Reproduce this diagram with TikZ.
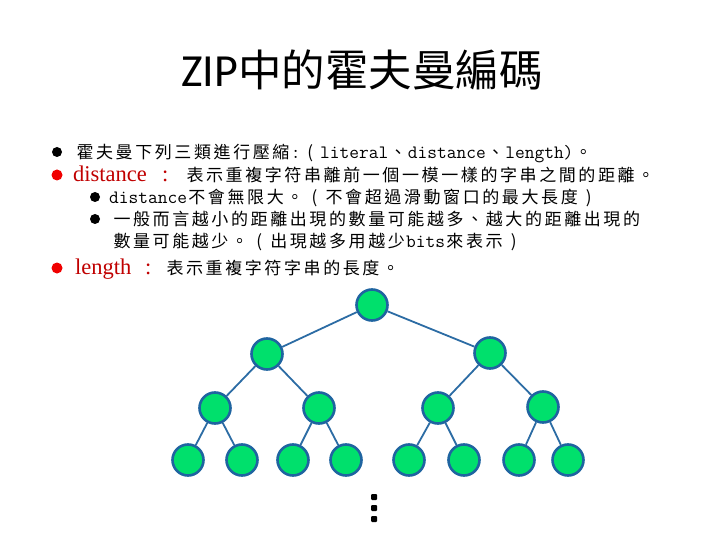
\documentclass[tikz,border=0pt]{standalone}
\usepackage{fontspec}
\setmainfont{Noto Sans CJK TC}
\newfontfamily\cjkf{Noto Sans CJK TC}
\newfontfamily\serf{Liberation Serif}
\newfontfamily\titlesans{Carlito}
\definecolor{nodefill}{HTML}{00E06C}
\definecolor{nodeline}{HTML}{1F64A0}
\definecolor{edgeline}{HTML}{2C6CA4}
\definecolor{redtext}{HTML}{C00000}
\definecolor{redbullet}{HTML}{F00000}
\newcommand\spc[1]{\spcA#1\relax}
\def\spcA#1{\ifx\relax#1\else\makebox[19.6pt]{#1}\expandafter\spcA\fi}
\newcommand\lat[1]{{\ttfamily\fontsize{18.9}{22}\selectfont #1}}
\tikzset{
  body/.style={anchor=base west, inner sep=0pt, font=\cjkf\fontsize{17}{20}\selectfont},
  redword/.style={anchor=base west, inner sep=0pt, text=redtext, font=\serf\fontsize{22.5}{26}\selectfont},
  blackbullet/.style={circle, fill=black, inner sep=0pt, minimum size=10pt},
  redbul/.style={circle, fill=redbullet, inner sep=0pt, minimum size=11pt},
  treenode/.style={circle, fill=nodefill, draw=nodeline, line width=2.6pt, minimum size=31pt, inner sep=0pt},
  edge/.style={draw=edgeline, line width=1.8pt},
  dotmark/.style={fill=black, rounded corners=1pt, minimum size=6pt, inner sep=0pt}
}
\begin{document}
\begin{tikzpicture}[x=1pt, y=-1pt]
\useasboundingbox (0,0) rectangle (720,540);
% title
\node (title) at (362,70) {\titlesans\fontsize{46}{52}\selectfont ZIP\cjkf\fontsize{43.5}{52}\selectfont 中的霍夫曼編碼};
% line 1
\node[blackbullet] (b1) at (57,152) {};
\node[body] (l1) at (75,158.5) {\spc{霍夫曼下列三類進行壓縮}\lat{:}\spc{(}\lat{literal}\spc{、}\lat{distance}\spc{、}\lat{length)}\spc{。}};
% line 2
\node[redbul] (b2) at (57,175) {};
\node[redword] (r2) at (73,181.5) {distance};
\node[redword] (c2) at (162,181.5) {:};
\node[body] (l2) at (185,181.5) {\spc{表示重複字符串離前一個一模一樣的字串之間的距離。}};
% line 3
\node[blackbullet] (b3) at (95,197) {};
\node[body] (l3) at (109,203.5) {\lat{distance}\spc{不會無限大。(不會超過滑動窗口的最大長度)}};
% line 4
\node[blackbullet] (b4) at (95,219) {};
\node[body] (l4) at (112,225.5) {\spc{一般而言越小的距離出現的數量可能越多、越大的距離出現的}};
% line 5
\node[body] (l5) at (112,247.5) {\spc{數量可能越少。(出現越多用越少}\lat{bits}\spc{來表示)}};
% line 6
\node[redbul] (b6) at (57,268) {};
\node[redword] (r6) at (75,274.5) {length};
\node[redword] (c6) at (145,274.5) {:};
\node[body] (l6) at (165,274.5) {\spc{表示重複字符字串的長度。}};
% tree
\node[treenode] (n0) at (372,305) {};
\node[treenode] (n1) at (267,354) {};
\node[treenode] (n2) at (490,353) {};
\node[treenode] (n3) at (215,408) {};
\node[treenode] (n4) at (319,408) {};
\node[treenode] (n5) at (438,408) {};
\node[treenode] (n6) at (543,407) {};
\node[treenode] (n7) at (188,460) {};
\node[treenode] (n8) at (242,460) {};
\node[treenode] (n9) at (293,460) {};
\node[treenode] (n10) at (346,460) {};
\node[treenode] (n11) at (409,460) {};
\node[treenode] (n12) at (464,460) {};
\node[treenode] (n13) at (519,460) {};
\node[treenode] (n14) at (568,460) {};
\path[edge] (n0) -- (n1) (n0) -- (n2)
  (n1) -- (n3) (n1) -- (n4) (n2) -- (n5) (n2) -- (n6)
  (n3) -- (n7) (n3) -- (n8) (n4) -- (n9) (n4) -- (n10)
  (n5) -- (n11) (n5) -- (n12) (n6) -- (n13) (n6) -- (n14);
\node[dotmark] (d1) at (374,497) {};
\node[dotmark] (d2) at (374,508) {};
\node[dotmark] (d3) at (374,519) {};
\end{tikzpicture}
\end{document}
